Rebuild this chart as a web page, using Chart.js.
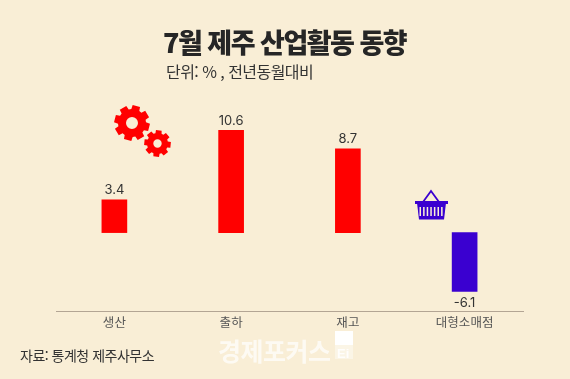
<!DOCTYPE html>
<html lang="ko">
<head>
<meta charset="utf-8">
<script src="https://cdn.jsdelivr.net/npm/chart.js@4"></script>
<style>
    html, body { margin: 0; padding: 0; background: #f9eed6; }
    #wrap { position: relative; width: 570px; height: 379px; overflow: hidden; font-family: "Noto Sans CJK KR", sans-serif; }
    #wrap canvas { position: absolute; left: 0; top: 0; }
    .label { position: absolute; white-space: nowrap; line-height: 1; }
    #title { left: 163px; top: 28px; font-size: 27px; font-weight: 900; color: #262626; letter-spacing: -1.5px; }
    #unit { left: 166px; top: 63px; font-size: 16px; color: #333; letter-spacing: -0.55px; }
    #source { left: 20px; top: 348px; font-size: 14px; color: #333; letter-spacing: -0.5px; }
    #mark { left: 218px; top: 338px; font-size: 25px; font-weight: 700; color: #fff; opacity: .7; letter-spacing: -0.5px; }
</style>
</head>
<body>
<div id="wrap">
    <canvas id="jejuChart" width="570" height="379"></canvas>
    <div class="label" id="title">7월 제주 산업활동 동향</div>
    <div class="label" id="unit">단위: % , 전년동월대비</div>
    <div class="label" id="source">자료: 통계청 제주사무소</div>
    <div class="label" id="mark">경제포커스</div>
</div>
<script>
const categories = ['생산', '출하', '재고', '대형소매점'];
const values = [3.4, 10.6, 8.7, -6.1];
const barColors = ['#ff0000', '#ff0000', '#ff0000', '#3a00d0'];

// Gear outline, used for the two red icons
function drawGear(ctx, x, y, outer, inner, hole, teeth, rot) {
    ctx.beginPath();
    const step = Math.PI * 2 / teeth;
    for (let i = 0; i < teeth; i++) {
        const a = rot + i * step;
        const pts = [[inner, -0.38], [outer, -0.27], [outer, 0.27], [inner, 0.38]];
        pts.forEach(p => {
            const t = a + p[1] * step;
            ctx.lineTo(x + Math.cos(t) * p[0], y + Math.sin(t) * p[0]);
        });
    }
    ctx.closePath();
    ctx.moveTo(x + hole, y);
    ctx.arc(x, y, hole, 0, Math.PI * 2, true);
    ctx.fillStyle = '#ff0000';
    ctx.fill();
}

// Shopping basket icon
function drawBasket(ctx) {
    ctx.save();
    ctx.strokeStyle = '#3a00d0';
    ctx.fillStyle = '#3a00d0';
    ctx.lineWidth = 1.8;
    ctx.beginPath();
    ctx.moveTo(423, 202);
    ctx.lineTo(431, 191);
    ctx.lineTo(439, 202);
    ctx.stroke();
    ctx.fillRect(415, 201, 33, 3);
    ctx.beginPath();
    ctx.moveTo(417, 203);
    ctx.lineTo(419, 219.5);
    ctx.lineTo(444, 219.5);
    ctx.lineTo(446, 203);
    ctx.closePath();
    ctx.fill();
    ctx.fillStyle = '#f9eed6';
    for (let i = 0; i < 7; i++) {
        ctx.fillRect(419.5 + i * 3.6, 207, 1.5, 9);
    }
    ctx.restore();
}

const iconPlugin = {
    id: 'icons',
    afterDraw(chart) {
        const ctx = chart.ctx;
        drawGear(ctx, 132, 123, 18, 14, 6, 8, 0.25);
        drawGear(ctx, 157.5, 143.5, 13.5, 10.5, 4.2, 8, 0.1);
        drawBasket(ctx);
        // white logo block next to the watermark
        ctx.fillStyle = 'rgba(255,255,255,0.4)';
        ctx.fillRect(335, 331, 18, 28);
        ctx.fillStyle = '#ffffff';
        ctx.fillRect(335, 331, 18, 14);
        ctx.fillStyle = 'rgba(255,255,255,0.85)';
        ctx.font = '700 13px "Liberation Sans"';
        ctx.textAlign = 'left';
        ctx.textBaseline = 'alphabetic';
        ctx.fillText('Ei', 337, 358);
    }
};

const valueLabels = {
    id: 'valueLabels',
    afterDatasetsDraw(chart) {
        const ctx = chart.ctx;
        const meta = chart.getDatasetMeta(0);
        ctx.save();
        ctx.font = '13px "Inter", sans-serif';
        ctx.fillStyle = '#333';
        ctx.textAlign = 'center';
        meta.data.forEach((bar, i) => {
            if (values[i] >= 0) {
                ctx.textBaseline = 'bottom';
                ctx.fillText(values[i], bar.x, bar.y - 3);
            } else {
                ctx.textBaseline = 'top';
                ctx.fillText(values[i], bar.x, bar.y + 5);
            }
        });
        ctx.restore();
    }
};

new Chart(document.getElementById('jejuChart'), {
    type: 'bar',
    data: {
        labels: categories,
        datasets: [{
            data: values,
            backgroundColor: barColors,
            barThickness: 25
        }]
    },
    options: {
        responsive: false,
        animation: false,
        layout: { padding: { left: 56, right: 47, top: 60, bottom: 0 } },
        plugins: { legend: { display: false }, title: { display: false }, tooltip: { enabled: false } },
        scales: {
            x: {
                afterFit(scale) { scale.height = 68; },
                grid: { display: false, drawTicks: false },
                border: { color: '#b3a594', width: 1 },
                ticks: { color: '#555', font: { size: 12.5, family: '"Noto Sans CJK KR"' }, padding: 4, maxRotation: 0 }
            },
            y: {
                display: false,
                min: -8.13,
                max: 17.9
            }
        }
    },
    plugins: [iconPlugin, valueLabels]
});
</script>
</body>
</html>
